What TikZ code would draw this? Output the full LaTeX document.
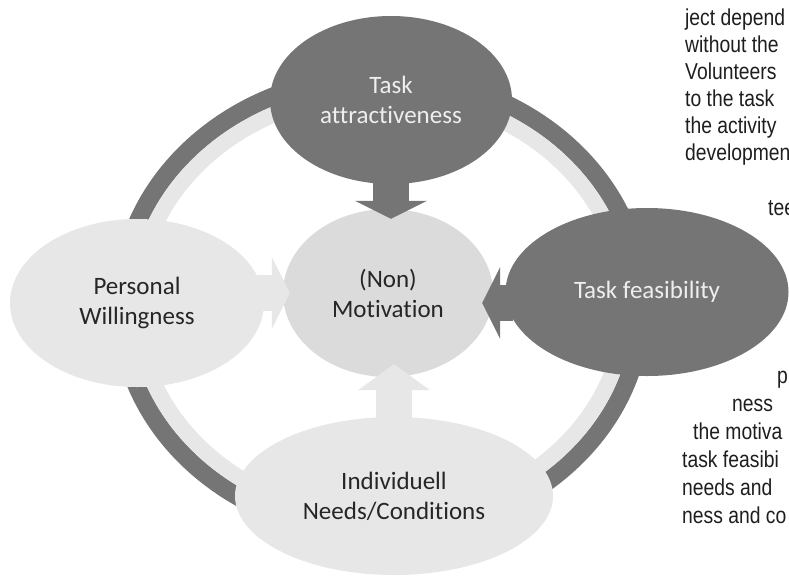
\documentclass[tikz,border=0pt]{standalone}
\usepackage{fontspec}
\setmainfont{Carlito}[Ligatures=NoCommon]
\newfontfamily\pagefont[FakeStretch=0.84]{Liberation Sans}
\usetikzlibrary{shapes.geometric,arrows.meta}
\definecolor{fillDark}{RGB}{117,117,117}
\definecolor{fillLight}{RGB}{231,231,231}
\definecolor{fillCore}{RGB}{219,219,219}
\definecolor{inkDark}{RGB}{38,38,38}
\definecolor{inkPale}{RGB}{238,238,238}
\definecolor{inkPage}{RGB}{30,30,30}
\begin{document}
\begin{tikzpicture}[
  x=1pt, y=-1pt,
  every node/.style={font=\fontsize{25}{30}\selectfont, align=center, inner sep=0pt},
  darkbubble/.style={ellipse, fill=fillDark, text=inkPale},
  lightbubble/.style={ellipse, fill=fillLight, text=inkDark},
  corebubble/.style={ellipse, fill=fillCore, text=inkDark},
  darkpush/.style={draw=fillDark, line width=36pt, -{Triangle[length=#1,width=72pt,line width=0pt]}},
  darkpush/.default=18pt,
  lightpush/.style={draw=fillLight, line width=36pt, -{Triangle[length=#1,width=72pt,line width=0pt]}},
  lightpush/.default=18pt,
  pageline/.style={anchor=base west, font=\pagefont\fontsize{23}{28}\selectfont, text=inkPage}
]
\useasboundingbox (0,0) rectangle (789,576);

% ring behind the bubbles
\draw[fillDark, line width=18pt] (381,305) ellipse [x radius=261pt, y radius=229pt];
\draw[fillLight, line width=16pt] (381,305) ellipse [x radius=244pt, y radius=212pt];

\node[corebubble, minimum width=210pt, minimum height=168pt] (motiv) at (388,293) {(Non)\\Motivation};
\node[darkbubble, minimum width=242pt, minimum height=168pt] (attr) at (391,100) {Task\\attractiveness};
\node[lightbubble, minimum width=254pt, minimum height=168pt] (will) at (137,303) {Personal\\Willingness};
\node[darkbubble, minimum width=283pt, minimum height=168pt] (feas) at (647,292) {Task feasibility};
\node[lightbubble, minimum width=318pt, minimum height=158pt] (needs) at (394,496) {Individuell\\Needs/Conditions};

\draw[darkpush, shorten <=-8pt, shorten >=-10pt] (attr.south) -- (attr.south |- motiv.north);
\draw[lightpush, shorten <=-8pt, shorten >=-7pt] (will.east |- motiv) -- (motiv.west);
\draw[darkpush, shorten <=-8pt, shorten >=-11pt] (feas.west |- will) -- (motiv.east |- will);
\draw[lightpush=26pt, shorten <=-8pt, shorten >=-13pt] (needs.north) -- (needs.north |- motiv.south);

% running text of the page beside the figure
\node[pageline] (pg1) at (685,25) {ject depend};
\node[pageline] (pg2) at (685,52) {without the};
\node[pageline] (pg3) at (685,79) {Volunteers};
\node[pageline] (pg4) at (685,106) {to the task};
\node[pageline] (pg5) at (685,133) {the activity};
\node[pageline] (pg6) at (685,160) {developmen};
\node[pageline] (pg7) at (768,215) {tee};
\node[pageline] (pg8) at (777,383) {p};
\node[pageline] (pg9) at (732,411) {ness};
\node[pageline] (pg10) at (693,439) {the motiva};
\node[pageline] (pg11) at (682,467) {task feasibi};
\node[pageline] (pg12) at (682,495) {needs and};
\node[pageline] (pg13) at (682,523) {ness and co};
\end{tikzpicture}
\end{document}
